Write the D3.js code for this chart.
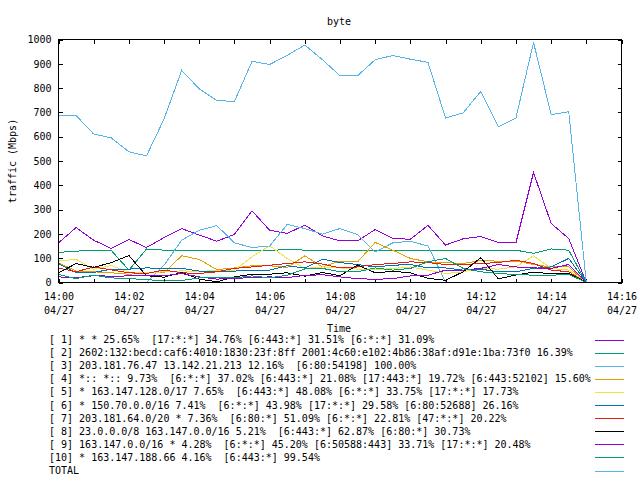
<!DOCTYPE html>
<html>
<head>
<meta charset="utf-8">
<script src="https://cdn.jsdelivr.net/npm/d3@7"></script>
<style>
  html, body { margin: 0; padding: 0; background: #fff; }
  svg { display: block; }
  text { font-family: "DejaVu Sans Mono", monospace; font-size: 10px; fill: #000; }
</style>
</head>
<body>
<svg id="chart" width="640" height="480"></svg>
<script>
// ---------- DATA ----------
const times = ["14:00:00","14:00:30","14:01:00","14:01:30","14:02:00","14:02:30","14:03:00","14:03:30",
  "14:04:00","14:04:30","14:05:00","14:05:30","14:06:00","14:06:30","14:07:00","14:07:30",
  "14:08:00","14:08:30","14:09:00","14:09:30","14:10:00","14:10:30","14:11:00","14:11:30",
  "14:12:00","14:12:30","14:13:00","14:13:30","14:14:00","14:14:30","14:15:00"];

const s1  = [163,226,174,140,177,144,185,222,195,170,198,295,215,202,236,192,171,171,218,181,178,235,154,180,189,165,163,453,243,181,0];
const s2  = [124,129,133,132,51,138,133,133,132,132,132,132,131,137,133,132,131,131,132,132,132,132,132,132,132,132,133,120,138,133,0];
const s3  = [0,0,0,0,0,0,71,174,215,234,163,144,150,239,222,199,222,197,126,163,170,150,2,0,0,0,0,0,0,0,0];
const s4  = [81,47,44,40,34,40,40,110,95,53,60,69,69,62,110,64,88,85,165,133,99,85,82,78,90,88,88,74,64,64,0];
const s5  = [88,96,54,70,43,40,44,48,45,50,51,106,151,99,58,64,60,55,52,58,64,51,37,44,58,55,64,110,58,51,0];
const s6  = [78,41,41,55,55,60,58,58,47,44,47,51,51,69,60,96,82,74,64,71,74,60,60,51,55,44,44,58,64,99,0];
const s7  = [60,44,64,52,40,37,51,40,37,44,58,64,71,78,85,76,60,64,74,78,85,82,74,74,78,82,92,78,51,44,0];
const s8  = [40,78,62,82,111,28,22,41,14,3,23,34,34,40,26,41,28,72,40,46,40,17,9,44,102,15,31,43,36,38,0];
const s9  = [23,20,28,26,27,27,28,37,23,14,17,20,23,20,29,32,23,16,13,16,27,30,51,51,58,74,64,60,58,74,0];
const s10 = [33,16,30,19,16,12,6,8,19,22,19,27,19,30,56,58,44,44,60,51,58,85,99,58,44,37,33,30,30,33,0];
const total = [687,687,611,595,538,521,673,873,797,749,745,910,897,935,977,917,851,851,917,934,919,906,677,698,786,640,677,988,691,703,0];

const legendLabels = [
  "[ 1] * * 25.65%  [17:*:*] 34.76% [6:443:*] 31.51% [6:*:*] 31.09%",
  "[ 2] 2602:132:becd:caf6:4010:1830:23f:8ff 2001:4c60:e102:4b86:38af:d91e:1ba:73f0 16.39%",
  "[ 3] 203.181.76.47 13.142.21.213 12.16%  [6:80:54198] 100.00%",
  "[ 4] *:: *:: 9.73%  [6:*:*] 37.02% [6:443:*] 21.08% [17:443:*] 19.72% [6:443:52102] 15.60%",
  "[ 5] * 163.147.128.0/17 7.65%  [6:443:*] 48.08% [6:*:*] 33.75% [17:*:*] 17.73%",
  "[ 6] * 150.70.0.0/16 7.41%  [6:*:*] 43.98% [17:*:*] 29.58% [6:80:52688] 26.16%",
  "[ 7] 203.181.64.0/20 * 7.36%  [6:80:*] 51.09% [6:*:*] 22.81% [47:*:*] 20.22%",
  "[ 8] 23.0.0.0/8 163.147.0.0/16 5.21%  [6:443:*] 62.87% [6:80:*] 30.73%",
  "[ 9] 163.147.0.0/16 * 4.28%  [6:*:*] 45.20% [6:50588:443] 33.71% [17:*:*] 20.48%",
  "[10] * 163.147.188.66 4.16%  [6:443:*] 99.54%",
  "TOTAL"
];
const seriesValues = [s1, s2, s3, s4, s5, s6, s7, s8, s9, s10, total];
const colors = ["#9400d3","#009e73","#56b4e9","#e69f00","#f0e442","#0072b2","#e51e10","#000000","#9400d3","#009e73","#56b4e9"];

const xTickLabels = ["14:00","14:02","14:04","14:06","14:08","14:10","14:12","14:14","14:16"];
const dateLabel = "04/27";
const yTicks = [0,100,200,300,400,500,600,700,800,900,1000];
const title = "byte";
const yTitle = "traffic (Mbps)";
const xTitle = "Time";

// ---------- CHART ----------
const svg = d3.select("#chart");
svg.append("rect").attr("width", 640).attr("height", 480).attr("fill", "#fff");

const parse = d3.timeParse("%Y-%m-%d %H:%M:%S");
const day = "2000-04-27 ";
const tDates = times.map(t => parse(day + t));
const x = d3.scaleTime()
  .domain([parse(day + "14:00:00"), parse(day + "14:16:00")])
  .range([58.5, 621.5]);
const y = d3.scaleLinear().domain([0, 1000]).range([282.5, 39.5]);

const L = 58.5, R = 621.5, T = 39.5, B = 282.5;

// minute ticks
const minuteTicks = d3.range(0, 17).map(m => parse(day + "14:" + String(m).padStart(2, "0") + ":00"));
const labelFor = d => {
  const s = d3.timeFormat("%H:%M")(d);
  return xTickLabels.includes(s) ? s : "";
};

// bottom axis
const gx = svg.append("g").attr("transform", `translate(0,${B})`)
  .call(d3.axisBottom(x).tickValues(minuteTicks).tickSize(-4).tickSizeOuter(0).tickPadding(9).tickFormat(labelFor));
gx.select(".domain").remove();
gx.selectAll(".tick line").attr("stroke", "#000").attr("shape-rendering", "crispEdges");
gx.selectAll(".tick text").each(function(d) {
  const t = d3.select(this);
  const lab = t.text();
  t.text(null).attr("y", 9).attr("dy", null).attr("font-family", "DejaVu Sans Mono").attr("font-size", 10);
  if (lab) {
    t.append("tspan").attr("x", 0).attr("y", 17).text(lab);
    t.append("tspan").attr("x", 0).attr("y", 31).text(dateLabel);
  }
});
// top mirror
const gxt = svg.append("g").attr("transform", `translate(0,${T})`)
  .call(d3.axisTop(x).tickValues(minuteTicks).tickSize(-4).tickSizeOuter(0).tickFormat(""));
gxt.select(".domain").remove();
gxt.selectAll(".tick line").attr("stroke", "#000").attr("shape-rendering", "crispEdges");

// left axis
const gy = svg.append("g").attr("transform", `translate(${L},0)`)
  .call(d3.axisLeft(y).tickValues(yTicks).tickSize(-4).tickSizeOuter(0).tickPadding(7).tickFormat(d3.format("d")));
gy.select(".domain").remove();
gy.selectAll(".tick line").attr("stroke", "#000").attr("shape-rendering", "crispEdges");
gy.selectAll(".tick text").attr("font-family", "DejaVu Sans Mono").attr("font-size", 10);
// right mirror
const gyr = svg.append("g").attr("transform", `translate(${R},0)`)
  .call(d3.axisRight(y).tickValues(yTicks).tickSize(-4).tickSizeOuter(0).tickFormat(""));
gyr.select(".domain").remove();
gyr.selectAll(".tick line").attr("stroke", "#000").attr("shape-rendering", "crispEdges");

// series lines
const line = d3.line().x((d, i) => x(tDates[i])).y(d => y(d));
seriesValues.forEach((vals, k) => {
  svg.append("path")
    .datum(vals)
    .attr("d", line)
    .attr("fill", "none")
    .attr("stroke", colors[k])
    .attr("stroke-width", 1)
    .attr("shape-rendering", "crispEdges");
});

// border
svg.append("rect").attr("x", L).attr("y", T).attr("width", R - L).attr("height", B - T)
  .attr("fill", "none").attr("stroke", "#000").attr("stroke-width", 1).attr("shape-rendering", "crispEdges");

// titles
svg.append("text").attr("x", 339).attr("y", 25).attr("text-anchor", "middle").text(title);
svg.append("text").attr("x", 339).attr("y", 332).attr("text-anchor", "middle").text(xTitle);
svg.append("text").attr("transform", "translate(16,161) rotate(-90)").attr("text-anchor", "middle").text(yTitle);

// legend
const legend = svg.append("g");
legendLabels.forEach((lab, i) => {
  const cy = 339.5 + i * 13.1;
  legend.append("text").attr("x", 49).attr("y", cy + 3.5).attr("xml:space", "preserve").style("white-space", "pre").text(lab);
  legend.append("line").attr("x1", 595).attr("x2", 624)
    .attr("y1", Math.round(cy) + 0.5).attr("y2", Math.round(cy) + 0.5)
    .attr("stroke", colors[i]).attr("stroke-width", 1)
    .attr("shape-rendering", "crispEdges");
});
</script>
</body>
</html>
